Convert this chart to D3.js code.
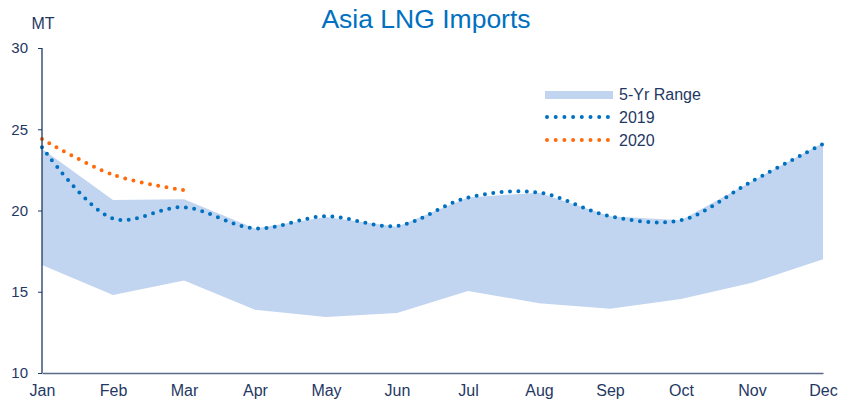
<!DOCTYPE html>
<html>
<head>
<meta charset="utf-8">
<script src="https://cdn.jsdelivr.net/npm/d3@7"></script>
<style>
  body { margin: 0; background: #fff; }
  text { font-family: "Liberation Sans", Arial, sans-serif; }
</style>
</head>
<body>
<div id="chart"></div>
<script>
var months = ["Jan", "Feb", "Mar", "Apr", "May", "Jun", "Jul", "Aug", "Sep", "Oct", "Nov", "Dec"];
var rangeLow = [16.65, 14.8, 15.7, 13.9, 13.45, 13.7, 15.05, 14.3, 13.95, 14.55, 15.55, 17.0];
var rangeHigh = [23.8, 20.65, 20.7, 18.9, 19.6, 19.0, 20.8, 21.1, 19.65, 19.4, 21.8, 24.15];
var y2019 = [23.9, 19.5, 20.2, 18.9, 19.65, 19.05, 20.8, 21.1, 19.65, 19.4, 21.8, 24.1];
var y2020 = [24.4, 22.2, 21.25];
var yTicks = [10, 15, 20, 25, 30];

var width = 841, height = 400;
var navy = "#1f3864";

var svg = d3.select("#chart").append("svg")
    .attr("width", width)
    .attr("height", height);

var x = d3.scalePoint().domain(months).range([42, 823]);
var y = d3.scaleLinear().domain([10, 30]).range([373, 48]);

// 5 year range band
var rangeData = months.map(function (m, i) {
    return {m: m, lo: rangeLow[i], hi: rangeHigh[i]};
});
var area = d3.area()
    .x(function (d) { return x(d.m); })
    .y0(function (d) { return y(d.lo); })
    .y1(function (d) { return y(d.hi); });
svg.append("path")
    .datum(rangeData)
    .attr("d", area)
    .attr("fill", "#c1d5f0");

var line = d3.line()
    .x(function (d) { return x(d.m); })
    .y(function (d) { return y(d.v); })
    .curve(d3.curveCatmullRom.alpha(0.5));

function dotted(vals, color) {
    svg.append("path")
        .datum(vals.map(function (v, i) { return {m: months[i], v: v}; }))
        .attr("d", line)
        .attr("fill", "none")
        .attr("stroke", color)
        .attr("stroke-width", 4)
        .attr("stroke-linecap", "round")
        .attr("stroke-dasharray", "0 8.4");
}
dotted(y2019, "#0070c0");
dotted(y2020, "#ff6a0a");

// axes
var yAxis = svg.append("g")
    .attr("transform", "translate(42,0)")
    .call(d3.axisLeft(y).tickValues(yTicks).tickSize(4).tickPadding(10));
yAxis.select(".domain").attr("stroke", navy).attr("stroke-width", 1.3).attr("d", "M0,48V373");
yAxis.selectAll(".tick line").attr("stroke", navy);
yAxis.selectAll(".tick text").attr("fill", navy).attr("font-size", 15)
    .attr("font-family", "Liberation Sans, Arial, sans-serif");

var xAxis = svg.append("g")
    .attr("transform", "translate(0,373)")
    .call(d3.axisBottom(x).tickSize(0).tickPadding(12));
xAxis.select(".domain").attr("stroke", "#5a6a86").attr("stroke-width", 1.3);
xAxis.selectAll(".tick text").attr("fill", navy).attr("font-size", 16)
    .attr("font-family", "Liberation Sans, Arial, sans-serif");

svg.append("text")
    .attr("x", 43).attr("y", 29)
    .attr("text-anchor", "middle")
    .attr("fill", navy)
    .attr("font-size", 16)
    .text("MT");

svg.append("text")
    .attr("x", 426).attr("y", 28)
    .attr("text-anchor", "middle")
    .attr("fill", "#0070c0")
    .attr("font-size", 26.5)
    .text("Asia LNG Imports");

// legend
var lg = svg.append("g").attr("transform", "translate(545,0)");
lg.append("rect").attr("x", 0).attr("y", 91).attr("width", 68).attr("height", 8).attr("fill", "#c1d5f0");
lg.append("text").attr("x", 74).attr("y", 100).attr("fill", navy).attr("font-size", 16).text("5-Yr Range");
[["2019", "#0070c0", 117], ["2020", "#ff6a0a", 140]].forEach(function (e) {
    lg.append("line")
        .attr("x1", 2).attr("x2", 64).attr("y1", e[2]).attr("y2", e[2])
        .attr("stroke", e[1]).attr("stroke-width", 4)
        .attr("stroke-linecap", "round").attr("stroke-dasharray", "0 8.7");
    lg.append("text").attr("x", 74).attr("y", e[2] + 6).attr("fill", navy).attr("font-size", 16).text(e[0]);
});
</script>
</body>
</html>
